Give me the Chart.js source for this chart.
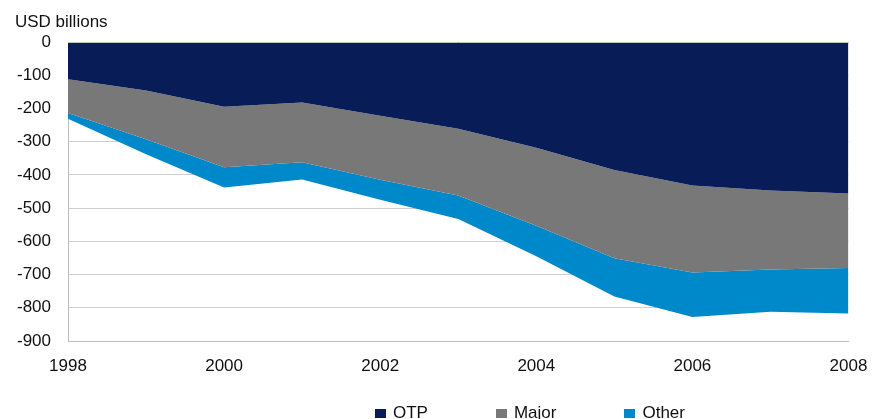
<!DOCTYPE html>
<html>
<head>
<meta charset="utf-8">
<script src="https://cdn.jsdelivr.net/npm/chart.js@4/dist/chart.umd.min.js"></script>
<style>
	html, body { margin: 0; padding: 0; overflow: hidden; background: #fff; }
	#wrap { position: relative; width: 875px; height: 419px; }
	#legend {
		position: absolute; left: 375px; top: 403px;
		display: flex; gap: 68px;
		font: 17px/20px 'Liberation Sans', Arial, sans-serif; color: #111;
		white-space: nowrap;
	}
	#legend span.box { display: inline-block; width: 11px; height: 9px; margin-right: 7px; }
</style>
</head>
<body>
<div id="wrap">
	<canvas id="chart"></canvas>
	<div id="legend"></div>
</div>
<script>
const years = ["1998", "1999", "2000", "2001", "2002", "2003", "2004", "2005", "2006", "2007", "2008"];

// USD billions, each series stacked below the previous one
const otp = [-112, -146, -195, -182, -222, -261, -318, -385, -432, -447, -456];
const major = [-102, -147, -182, -180, -193, -201, -235, -266, -262, -238, -224];
const other = [-17, -45, -61, -52, -60, -71, -92, -115, -134, -127, -137];

const unitLabel = "USD billions";

const font = { family: "'Liberation Sans', Arial, sans-serif", size: 17 };

// unit caption above the y axis, plus the grey line along the top of the plot
const extras = {
	id: "extras",
	afterDraw: (chart) => {
		const ctx = chart.ctx;
		const area = chart.chartArea;
		ctx.save();
		ctx.strokeStyle = "#c4c4c4";
		ctx.lineWidth = 1;
		ctx.beginPath();
		ctx.moveTo(area.left, Math.round(area.top) + 0.5);
		ctx.lineTo(area.right, Math.round(area.top) + 0.5);
		ctx.stroke();
		ctx.font = "17px 'Liberation Sans', Arial, sans-serif";
		ctx.fillStyle = "#111";
		ctx.textBaseline = "alphabetic";
		ctx.fillText(unitLabel, 15, 27);
		ctx.restore();
	}
};

const area = (label, data, color, fill) => ({
	label: label,
	data: data,
	backgroundColor: color,
	borderColor: color,
	borderWidth: 0,
	pointRadius: 0,
	pointHitRadius: 10,
	tension: 0,
	fill: fill
});

const chart = new Chart(document.getElementById("chart").getContext("2d"), {
	type: "line",
	data: {
		labels: years,
		datasets: [
			area("OTP", otp, "rgb(8, 28, 88)", "origin"),
			area("Major", major, "rgb(120, 120, 120)", "-1"),
			area("Other", other, "rgb(0, 137, 202)", "-1")
		]
	},
	options: {
		responsive: true,
		maintainAspectRatio: false,
		animation: false,
		layout: {
			padding: { top: 42, left: 0, right: 26.5, bottom: 38 }
		},
		plugins: {
			legend: { display: false },
			tooltip: { enabled: false }
		},
		scales: {
			x: {
				offset: false,
				afterFit: (scale) => {
					scale.height = 40;
					scale.paddingLeft = 0;
					scale.paddingRight = 0;
				},
				grid: { display: false, drawTicks: false },
				border: { color: "#bdbdbd", width: 1 },
				ticks: {
					color: "#111",
					font: font,
					padding: 15,
					autoSkip: false,
					maxRotation: 0,
					callback: function (value, index) {
						return index % 2 === 0 ? this.getLabelForValue(value) : "";
					}
				}
			},
			y: {
				stacked: true,
				min: -900,
				max: 0,
				afterFit: (scale) => { scale.width = 68; },
				grid: { color: "#cfcfcf", drawTicks: false },
				border: { color: "#bdbdbd", width: 1 },
				ticks: {
					color: "#111",
					font: font,
					stepSize: 100,
					padding: 17
				}
			}
		}
	},
	plugins: [extras]
});

// legend built from the chart's own legend items
const legendEl = document.getElementById("legend");
Chart.defaults.plugins.legend.labels.generateLabels(chart).forEach((item) => {
	const entry = document.createElement("div");
	const box = document.createElement("span");
	box.className = "box";
	box.style.background = item.fillStyle;
	entry.appendChild(box);
	entry.appendChild(document.createTextNode(item.text));
	legendEl.appendChild(entry);
});
</script>
</body>
</html>
